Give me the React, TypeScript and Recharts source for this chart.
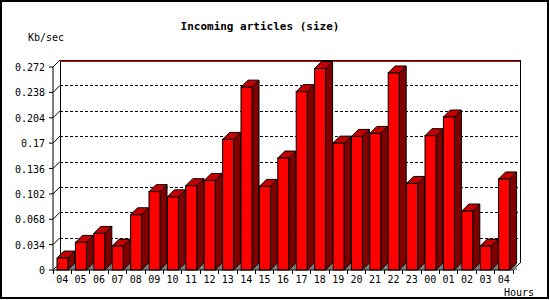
import React from 'react';
import {
  BarChart,
  Bar,
  XAxis,
  YAxis,
  CartesianGrid,
  ReferenceArea
} from 'recharts';

// hourly incoming article size, Kb/sec
const hours = [
  '04', '05', '06', '07', '08', '09', '10', '11', '12', '13', '14', '15', '16',
  '17', '18', '19', '20', '21', '22', '23', '00', '01', '02', '03', '04'
];
const kbPerSec = [
  0.016, 0.037, 0.049, 0.032, 0.074, 0.105, 0.098, 0.113, 0.12, 0.175, 0.245, 0.112, 0.15,
  0.239, 0.27, 0.17, 0.179, 0.183, 0.264, 0.116, 0.18, 0.205, 0.079, 0.032, 0.122
];
const yTicks = [0, 0.034, 0.068, 0.102, 0.136, 0.17, 0.204, 0.238, 0.272];

const data = hours.map((hour, i) => ({ hour, value: kbPerSec[i] }));

const D = 7; // 3d depth
const FONT = '"DejaVu Sans Mono", monospace';

const Bar3D = (props: any) => {
  const { x, y, width: w, height: h } = props;
  if (h == null || w == null) return null;
  const b = y + h;
  return (
    <g>
      <polygon
        points={`${x + w},${b} ${x + w + D},${b - D} ${x + w + D},${b}`}
        fill="#808080"
      />
      <polygon
        points={`${x + w},${y} ${x + w + D},${y - D} ${x + w + D},${b - D} ${x + w},${b}`}
        fill="#800000"
        stroke="#000"
        strokeWidth={1}
      />
      <polygon
        points={`${x},${y} ${x + D},${y - D} ${x + w + D},${y - D} ${x + w},${y}`}
        fill="#c40000"
        stroke="#000"
        strokeWidth={1}
      />
      <rect x={x} y={y} width={w} height={h} fill="#ff0000" stroke="#000" strokeWidth={1} />
    </g>
  );
};

// back wall + floor edge, drawn from the plot rectangle
const Wall = (props: any) => {
  const { x, y, width: w, height: h } = props;
  if (x == null) return null;
  return (
    <g fill="none" shapeRendering="crispEdges">
      <line x1={x + D} y1={y - D} x2={x + D} y2={y + h - D} stroke="#000" />
      <line x1={x + w + D} y1={y - D} x2={x + w + D} y2={y + h - D} stroke="#000" />
      <line x1={x + D} y1={y - D + 0.5} x2={x + w + D} y2={y - D + 0.5} stroke="#000" />
      <line x1={x + D} y1={y - D + 1.5} x2={x + w + D} y2={y - D + 1.5} stroke="#ff0000" />
      <line x1={x} y1={y} x2={x + D} y2={y - D} stroke="#ff0000" shapeRendering="auto" />
      <line x1={x + w} y1={y + h} x2={x + w + D} y2={y + h - D} stroke="#000" shapeRendering="auto" />
    </g>
  );
};

const GridLine = (props: any) => {
  const { x1, y1, x2, y2, index, y, height } = props;
  // top and floor lines belong to the wall frame
  if (y != null && (Math.abs(y1 - y) < 0.5 || Math.abs(y1 - (y + height)) < 0.5)) {
    return <g key={`g-${index}`} />;
  }
  return (
    <line
      key={`g-${index}`}
      x1={x1 + D}
      y1={y1 - D + 0.5}
      x2={x2 + D}
      y2={y2 - D + 0.5}
      stroke="#000"
      strokeDasharray="3 2"
      shapeRendering="crispEdges"
    />
  );
};

const YTick = (props: any) => {
  const { x, y, payload } = props;
  return (
    <g>
      <line x1={x + 8} y1={y} x2={x + 8 + D} y2={y - D} stroke="#000" />
      <text x={x} y={y + 4} textAnchor="end" fontFamily={FONT} fontSize={10} fill="#000">
        {String(payload.value)}
      </text>
    </g>
  );
};

const XTick = (props: any) => {
  const { x, y, payload, index, visibleTicksCount, width } = props;
  const half =
    payload && payload.offset ? payload.offset : width / (visibleTicksCount || 25) / 2;
  const last = index === (visibleTicksCount || hours.length) - 1;
  return (
    <g shapeRendering="crispEdges">
      <line x1={x - half} y1={y - 4} x2={x - half} y2={y} stroke="#000" />
      {last && <line x1={x + half} y1={y - 4} x2={x + half} y2={y} stroke="#000" />}
      <text x={x} y={y + 9} textAnchor="middle" fontFamily={FONT} fontSize={10} fill="#000">
        {payload.value}
      </text>
    </g>
  );
};

const App: React.FC = () => {
  return (
    <div style={{ position: 'absolute', left: 0, top: 0, width: 550, height: 300, background: '#fff' }}>
      <BarChart
        width={550}
        height={300}
        data={data}
        margin={{ top: 67, right: 37, left: 0, bottom: 0 }}
      >
        <CartesianGrid vertical={false} horizontal={GridLine} />
        <ReferenceArea y1={0} y2={0.272} shape={<Wall />} ifOverflow="visible" />
        <XAxis
          dataKey="hour"
          height={30}
          tickSize={4}
          tickMargin={0}
          tickLine={{ stroke: 'none' }}
          axisLine={{ stroke: '#000' }}
          interval={0}
          tick={<XTick />}
        />
        <YAxis
          width={53}
          domain={[0, 0.272]}
          ticks={yTicks}
          tickSize={4}
          tickMargin={4}
          tickLine={{ stroke: '#000' }}
          axisLine={{ stroke: '#000' }}
          tick={<YTick />}
          interval={0}
        />
        <Bar dataKey="value" barSize={11} shape={<Bar3D />} isAnimationActive={false} />
      </BarChart>
      <svg
        width={550}
        height={300}
        style={{ position: 'absolute', left: 0, top: 0, pointerEvents: 'none' }}
      >
        <rect x={1} y={1} width={547} height={297} fill="none" stroke="#000" strokeWidth={2} />
        <text x={260} y={30} textAnchor="middle" fontFamily={FONT} fontSize={11} fontWeight="bold" fill="#000">
          Incoming articles (size)
        </text>
        <text x={28} y={41} fontFamily={FONT} fontSize={10} fill="#000">
          Kb/sec
        </text>
        <text x={504} y={296} fontFamily={FONT} fontSize={10} fill="#000">
          Hours
        </text>
      </svg>
    </div>
  );
};

export default App;
